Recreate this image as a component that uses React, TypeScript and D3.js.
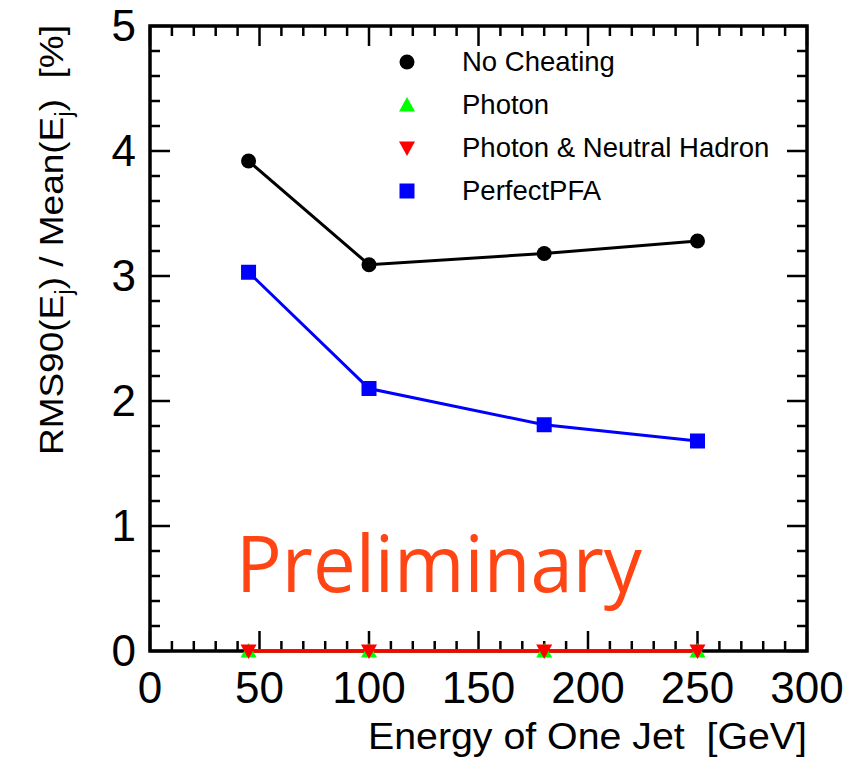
import React from "react";
import * as d3 from "d3";

const energies = [45, 100, 180, 250];
const noCheating = [3.92, 3.09, 3.18, 3.28];
const photon = [0, 0, 0, 0];
const photonNH = [0, 0, 0, 0];
const perfectPFA = [3.03, 2.1, 1.81, 1.68];
const xTicks = [0, 50, 100, 150, 200, 250, 300];
const yTicks = [0, 1, 2, 3, 4, 5];
const legendLabels = ["No Cheating", "Photon", "Photon & Neutral Hadron", "PerfectPFA"];

const W = 867, H = 758;
const L = 150, R = 807, T = 26, B = 651;
const FONT = "'Liberation Sans', Arial, Helvetica, sans-serif";

export default function App() {
  const x = d3.scaleLinear().domain([0, 300]).range([L, R]);
  const y = d3.scaleLinear().domain([0, 5]).range([B, T]);
  const line = d3.line<[number, number]>().x(d => x(d[0])).y(d => y(d[1]));
  const pts = (vals: number[]) => energies.map((e, i) => [e, vals[i]] as [number, number]);

  const xMinor = d3.range(0, 301, 10);
  const yMinor = d3.range(0, 5.001, 0.2).map(v => +v.toFixed(1));

  const tri = (cx: number, cy: number, up: boolean, s = 8) =>
    up
      ? `M${cx},${cy - s} L${cx + s},${cy + s * 0.8} L${cx - s},${cy + s * 0.8} Z`
      : `M${cx},${cy + s} L${cx + s},${cy - s * 0.8} L${cx - s},${cy - s * 0.8} Z`;

  const legX = 407, legTX = 462, legY0 = 62, legDY = 43;

  return (
    <svg width={W} height={H} style={{ display: "block", position: "absolute", left: 0, top: 0 }} fontFamily={FONT}>
      <rect x={0} y={0} width={W} height={H} fill="#fff" />
      {/* ticks */}
      {xMinor.map(v => {
        const major = v % 50 === 0;
        const len = major ? 20 : 10;
        return (
          <g key={"xt" + v}>
            <line x1={x(v)} x2={x(v)} y1={B} y2={B - len} stroke="#000" strokeWidth={2.5} />
            <line x1={x(v)} x2={x(v)} y1={T} y2={T + len} stroke="#000" strokeWidth={2.5} />
          </g>
        );
      })}
      {yMinor.map(v => {
        const major = Math.abs(v - Math.round(v)) < 1e-6;
        const len = major ? 20 : 10;
        return (
          <g key={"yt" + v}>
            <line x1={L} x2={L + len} y1={y(v)} y2={y(v)} stroke="#000" strokeWidth={2.5} />
            <line x1={R} x2={R - len} y1={y(v)} y2={y(v)} stroke="#000" strokeWidth={2.5} />
          </g>
        );
      })}
      <rect x={L} y={T} width={R - L} height={B - T} fill="none" stroke="#000" strokeWidth={3.5} />
      {/* tick labels */}
      {xTicks.map(v => (
        <text key={"xl" + v} x={x(v)} y={703} fontSize={44} textAnchor="middle" fill="#000">{v}</text>
      ))}
      {yTicks.map(v => (
        <text key={"yl" + v} x={136} y={y(v) + 15} fontSize={44} textAnchor="end" fill="#000">{v}</text>
      ))}
      {/* axis titles */}
      <text x={368} y={749} fontSize={36} fill="#000" xmlSpace="preserve" textLength={439} lengthAdjust="spacingAndGlyphs">Energy of One Jet  [GeV]</text>
      <text transform={`translate(63,455) rotate(-90)`} fontSize={34} fill="#000" xmlSpace="preserve" textLength={430} lengthAdjust="spacingAndGlyphs">
        <tspan>RMS90(E</tspan><tspan dy={9} fontSize={23}>j</tspan><tspan dy={-9}>) / Mean(E</tspan><tspan dy={9} fontSize={23}>j</tspan><tspan dy={-9}>)  [%]</tspan>
      </text>
      {/* preliminary */}
      <text x={236} y={592} fontSize={78} fill="#FF4514" fontFamily="'Open Sans', 'Liberation Sans', sans-serif" textLength={406} lengthAdjust="spacingAndGlyphs">Preliminary</text>
      {/* series */}
      <path d={line(pts(noCheating)) || ""} fill="none" stroke="#000" strokeWidth={3} />
      <path d={line(pts(perfectPFA)) || ""} fill="none" stroke="#0000ff" strokeWidth={3} />
      <path d={line(pts(photon)) || ""} fill="none" stroke="#00ff00" strokeWidth={3} />
      <path d={line(pts(photonNH)) || ""} fill="none" stroke="#ff0000" strokeWidth={3.5} />
      {pts(noCheating).map((p, i) => (
        <circle key={"nc" + i} cx={x(p[0])} cy={y(p[1])} r={7.5} fill="#000" />
      ))}
      {pts(perfectPFA).map((p, i) => (
        <rect key={"pf" + i} x={x(p[0]) - 7.5} y={y(p[1]) - 7.5} width={15} height={15} fill="#0000ff" />
      ))}
      {pts(photon).map((p, i) => (
        <path key={"ph" + i} d={tri(x(p[0]), y(p[1]), true)} fill="#00ff00" />
      ))}
      {pts(photonNH).map((p, i) => (
        <path key={"pn" + i} d={tri(x(p[0]), y(p[1]), false)} fill="#ff0000" />
      ))}
      {/* legend */}
      {legendLabels.map((lab, i) => {
        const cy = legY0 + i * legDY;
        let mark: React.ReactNode = null;
        if (i === 0) mark = <circle cx={legX} cy={cy} r={7.5} fill="#000" />;
        if (i === 1) mark = <path d={tri(legX, cy, true)} fill="#00ff00" />;
        if (i === 2) mark = <path d={tri(legX, cy, false)} fill="#ff0000" />;
        if (i === 3) mark = <rect x={legX - 7.5} y={cy - 7.5} width={15} height={15} fill="#0000ff" />;
        return (
          <g key={"lg" + i}>
            {mark}
            <text x={legTX} y={cy + 9} fontSize={27.5} fill="#000">{lab}</text>
          </g>
        );
      })}
    </svg>
  );
}
